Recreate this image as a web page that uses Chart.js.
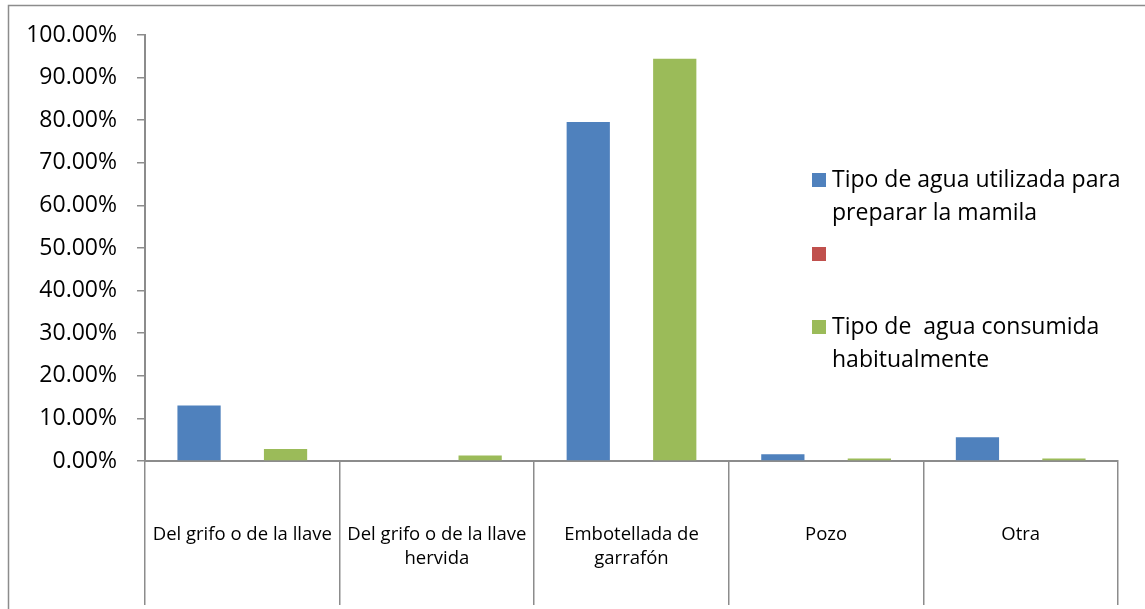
<!DOCTYPE html>
<html lang="es">
<head>
    <meta charset="UTF-8">
    <script src="https://cdn.jsdelivr.net/npm/chart.js"></script>
    <title>Tipo de agua</title>
    <style>
        html, body { margin: 0; padding: 0; background: #fff; }
        canvas { display: block; }
    </style>
</head>
<body>
    <canvas id="barChart" width="1145" height="609"></canvas>

    <script>
        // categories (multi-line labels as arrays)
        const categories = [
            ['Del grifo o de la llave'],
            ['Del grifo o de la llave', 'hervida'],
            ['Embotellada de', 'garrafón'],
            ['Pozo'],
            ['Otra']
        ];

        // series names, one entry per line of the legend text
        const mamilaName = ['Tipo de agua utilizada para', 'preparar la mamila'];
        const emptyName = [''];
        const consumidaName = ['Tipo de  agua consumida', 'habitualmente'];

        // percentages
        const mamilaValues = [13.0, 0, 79.6, 1.6, 5.6];
        const emptyValues = [null, null, null, null, null];
        const consumidaValues = [2.8, 1.3, 94.4, 0.6, 0.6];

        const yTicks = [0, 10, 20, 30, 40, 50, 60, 70, 80, 90, 100];

        const axisGray = '#8c8c8c';
        const fontFamily = '"Open Sans", Lato, sans-serif';

        // outer frame of the chart object
        const framePlugin = {
            id: 'frame',
            beforeDraw(chart) {
                const ctx = chart.ctx;
                ctx.save();
                ctx.strokeStyle = axisGray;
                ctx.lineWidth = 1.5;
                ctx.strokeRect(8.5, 5.5, chart.width + 20, chart.height + 20);
                ctx.restore();
            }
        };

        // legend drawn inside the plot, with wrapped labels
        const sideLegend = {
            id: 'sideLegend',
            afterDraw(chart) {
                const ctx = chart.ctx;
                const names = [mamilaName, emptyName, consumidaName];
                const rows = [180, 254, 327];
                ctx.save();
                ctx.font = '23px ' + fontFamily;
                ctx.textBaseline = 'middle';
                ctx.textAlign = 'left';
                chart.data.datasets.forEach((ds, i) => {
                    const y = rows[i];
                    ctx.fillStyle = ds.backgroundColor;
                    ctx.fillRect(812, y - 7, 14, 14);
                    ctx.fillStyle = '#000';
                    names[i].forEach((line, j) => {
                        ctx.fillText(line, 832, y + j * 33);
                    });
                });
                ctx.restore();
            }
        };

        const data1 = {
            labels: categories,
            datasets: [
                {
                    label: mamilaName.join(' '),
                    data: mamilaValues,
                    backgroundColor: '#4F81BD'
                },
                {
                    label: emptyName.join(' '),
                    data: emptyValues,
                    backgroundColor: '#C0504D'
                },
                {
                    label: consumidaName.join(' '),
                    data: consumidaValues,
                    backgroundColor: '#9BBB59'
                }
            ]
        };

        const config = {
            type: 'bar',
            data: data1,
            options: {
                responsive: false,
                animation: false,
                categoryPercentage: 3 / 4.5,
                barPercentage: 1,
                layout: {
                    padding: { top: 35, right: 27, bottom: 0, left: 0 }
                },
                plugins: {
                    legend: { display: false },
                    tooltip: { enabled: false }
                },
                scales: {
                    x: {
                        grid: {
                            display: true,
                            drawOnChartArea: false,
                            offset: true,
                            tickLength: 144,
                            color: axisGray,
                            lineWidth: 1.5
                        },
                        border: { display: true, color: axisGray, width: 2 },
                        ticks: {
                            autoSkip: false,
                            maxRotation: 0,
                            minRotation: 0,
                            padding: -82,
                            color: '#000',
                            font: { family: fontFamily, size: 18.5, lineHeight: 24 / 18.5 }
                        },
                        afterFit(scale) {
                            scale.height = 148;
                        }
                    },
                    y: {
                        min: 0,
                        max: 100,
                        afterBuildTicks(scale) {
                            scale.ticks = yTicks.map(v => ({ value: v }));
                        },
                        grid: {
                            drawOnChartArea: false,
                            tickLength: 8,
                            color: axisGray,
                            lineWidth: 1.5
                        },
                        border: { display: true, color: axisGray, width: 2 },
                        ticks: {
                            padding: 20,
                            color: '#000',
                            font: { family: fontFamily, size: 23 },
                            callback: v => v.toFixed(2) + '%'
                        },
                        afterFit(scale) {
                            scale.width = 145;
                        }
                    }
                }
            },
            plugins: [framePlugin, sideLegend]
        };

        const ctx = document.getElementById('barChart').getContext('2d');
        new Chart(ctx, config);
    </script>
</body>
</html>
